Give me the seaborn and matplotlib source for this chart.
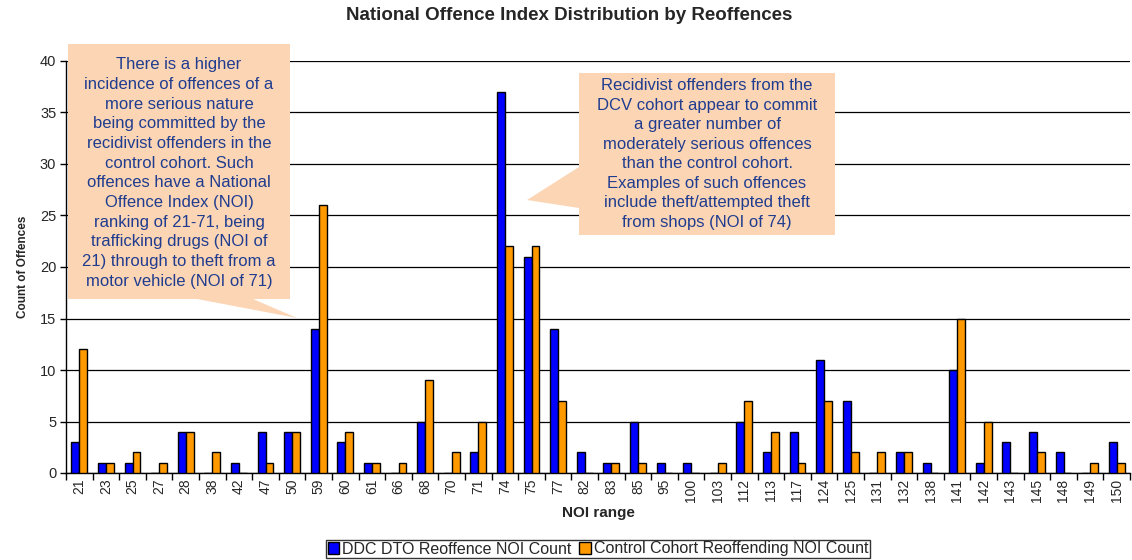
import matplotlib
matplotlib.use("Agg")
import matplotlib.pyplot as plt
from matplotlib.patches import Polygon
from matplotlib.ticker import FixedLocator, NullFormatter
import numpy as np
import pandas as pd
import seaborn as sns

# NOI ranges and reoffence counts per cohort
noi_range = ["21", "23", "25", "27", "28", "38", "42", "47", "50", "59",
             "60", "61", "66", "68", "70", "71", "74", "75", "77", "82",
             "83", "85", "95", "100", "103", "112", "113", "117", "124", "125",
             "131", "132", "138", "141", "142", "143", "145", "148", "149", "150"]
ddc_counts = [3, 1, 1, 0, 4, 0, 1, 4, 4, 14,
              3, 1, 0, 5, 0, 2, 37, 21, 14, 2,
              1, 5, 1, 1, 0, 5, 2, 4, 11, 7,
              0, 2, 1, 10, 1, 3, 4, 2, 0, 3]
control_counts = [12, 1, 2, 1, 4, 2, 0, 1, 4, 26,
                  4, 1, 1, 9, 2, 5, 22, 22, 7, 0,
                  1, 1, 0, 0, 1, 7, 4, 1, 7, 2,
                  2, 2, 0, 15, 5, 0, 2, 0, 1, 1]
series_names = ["DDC DTO Reoffence NOI Count", "Control Cohort Reoffending NOI Count"]
series_colors = ["#0000FF", "#FF9900"]

left_note = ("There is a higher\nincidence of offences of a\nmore serious nature\n"
             "being committed by the\nrecidivist offenders in the\ncontrol cohort. Such\n"
             "offences have a National\nOffence Index (NOI)\nranking of 21-71, being\n"
             "trafficking drugs (NOI of\n21) through to theft from a\nmotor vehicle (NOI of 71)")
right_note = ("Recidivist offenders from the\nDCV cohort appear to commit\na greater number of\n"
              "moderately serious offences\nthan the control cohort.\nExamples of such offences\n"
              "include theft/attempted theft\nfrom shops (NOI of 74)")

df = pd.DataFrame({
    "NOI range": noi_range * 2,
    "Count": ddc_counts + control_counts,
    "Series": [series_names[0]] * len(noi_range) + [series_names[1]] * len(noi_range),
})

sns.set_style("white")
plt.rcParams["font.family"] = ["Liberation Sans", "DejaVu Sans"]

W, H = 1132, 560
fig = plt.figure(figsize=(W / 100, H / 100), dpi=100)
ax = fig.add_axes([66 / W, 1 - 473 / H, (1130 - 66) / W, (473 - 61) / H])

sns.barplot(data=df, x="NOI range", y="Count", hue="Series", order=noi_range,
            hue_order=series_names, palette=series_colors, width=0.6, gap=0,
            edgecolor="black", linewidth=1.0, saturation=1, ax=ax, zorder=3)

ax.set_ylim(0, 40)
ax.set_xlim(-0.5, len(noi_range) - 0.5)
ax.set_yticks(np.arange(0, 41, 5))
ax.yaxis.grid(True, color="black", linewidth=0.9, zorder=0)
ax.set_axisbelow(True)
for s in ["top", "right"]:
    ax.spines[s].set_visible(False)
for s in ["left", "bottom"]:
    ax.spines[s].set_color("black")
    ax.spines[s].set_linewidth(1.0)

ax.tick_params(axis="y", left=True, length=4, width=1, labelsize=10.5, pad=3, color="black")
ax.tick_params(axis="x", which="major", length=0, labelsize=10, rotation=90, pad=4)
ax.xaxis.set_minor_locator(FixedLocator(np.arange(-0.5, len(noi_range), 1.0)))
ax.xaxis.set_minor_formatter(NullFormatter())
ax.tick_params(axis="x", which="minor", bottom=True, length=5, width=1, color="black")

ax.set_xlabel("NOI range", fontsize=11, fontweight="bold", labelpad=3)
ax.set_ylabel("Count of Offences", fontsize=8.5, fontweight="bold", labelpad=8)
fig.text(0.5025, 1 - 15 / H, "National Offence Index Distribution by Reoffences",
         ha="center", va="center", fontsize=13.5, fontweight="bold")

leg = ax.legend(loc="center", bbox_to_anchor=(598 / W, 1 - 549 / H),
                bbox_transform=fig.transFigure, ncol=2, frameon=True, fancybox=False,
                edgecolor="black", fontsize=11.5, handlelength=0.7, handleheight=0.7,
                handletextpad=0.2, columnspacing=0.5, borderpad=0.1, borderaxespad=0)
leg.get_frame().set_linewidth(1.0)


def fig_xy(points):
    return [(px / W, 1 - py / H) for px, py in points]


note_fill = "#FCD5B5"
note_text = "#1F3C8F"

left_shape = [(68, 44), (290, 44), (290, 299), (253, 299), (297, 318), (197, 299), (68, 299)]
fig.patches.append(Polygon(fig_xy(left_shape), closed=True, facecolor=note_fill,
                           edgecolor="none", transform=fig.transFigure, zorder=5))
fig.text(179 / W, 1 - 173 / H, left_note, ha="center", va="center", fontsize=12,
         color=note_text, linespacing=1.39, zorder=6)

right_shape = [(579, 73), (835, 73), (835, 235), (579, 235), (579, 208), (527, 200), (579, 167)]
fig.patches.append(Polygon(fig_xy(right_shape), closed=True, facecolor=note_fill,
                           edgecolor="none", transform=fig.transFigure, zorder=5))
fig.text(707 / W, 1 - 154 / H, right_note, ha="center", va="center", fontsize=12,
         color=note_text, linespacing=1.37, zorder=6)

fig.savefig("out.png", dpi=100)
